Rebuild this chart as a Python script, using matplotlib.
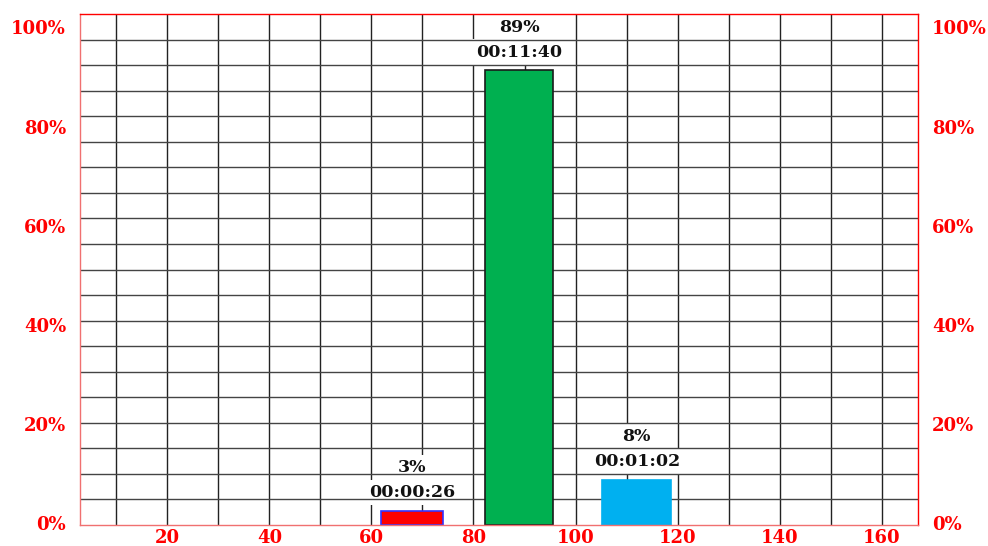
import numpy as np
import matplotlib
matplotlib.use("Agg")
import matplotlib.pyplot as plt

# bar data
bar_x = [68, 89, 112]
bar_pct = [2.8, 89, 8.8]
pct_labels = ["3%", "89%", "8%"]
time_labels = ["00:00:26", "00:11:40", "00:01:02"]
bar_colors = ["#ff0000", "#00b050", "#00b0f0"]
bar_edges = ["#3333ff", "#1a1a1a", "#00b0f0"]
bar_widths = [12.1, 13.3, 13.5]

x_ticks = [20, 40, 60, 80, 100, 120, 140, 160]
y_ticks = [0, 20, 40, 60, 80, 100]
y_labels = ["%d%%" % v for v in y_ticks]

RED = "#ff0000"
tick_font = {"family": "DejaVu Serif", "weight": "bold", "size": 13}
lab_font = {"family": "DejaVu Serif", "weight": "bold", "size": 12.5}

fig = plt.figure(figsize=(9.88, 5.46), dpi=100)
ax = fig.add_axes([80/988, 21/546, 838/988, 511/546])
ax.set_xlim(2.9, 167.1)
ax.set_ylim(0, 100)

# grid: vertical below the label boxes, horizontal above them
for gx in np.arange(10, 170, 10):
    ax.axvline(gx, color="#222222", lw=1.0, zorder=1)
for gy in np.arange(5, 100, 5):
    ax.axhline(gy, color="#444444", lw=1.0, zorder=2.5)

for i in range(len(bar_x)):
    ax.bar(bar_x[i], bar_pct[i], width=bar_widths[i], color=bar_colors[i],
           edgecolor=bar_edges[i], linewidth=1.2, zorder=3)
    box = dict(boxstyle="square,pad=0.25", fc="white", ec="none")
    ax.annotate(time_labels[i], (bar_x[i], bar_pct[i]), xytext=(0, 13),
                textcoords="offset points", ha="center", va="center",
                color="#111111", bbox=box, zorder=2, **lab_font)
    ax.annotate(pct_labels[i], (bar_x[i], bar_pct[i]), xytext=(0, 31),
                textcoords="offset points", ha="center", va="center",
                color="#111111", bbox=box, zorder=2,
                annotation_clip=False, **lab_font)

ax.set_xticks(x_ticks)
ax.set_xticklabels([str(v) for v in x_ticks], color=RED, **tick_font)
ax.set_yticks([])
ax.tick_params(axis="x", length=0, pad=3)

# percent labels on both sides sit on a slightly compressed scale
def to_lab(u):
    return (5.11 * np.asarray(u) - 2) / 4.955

def from_lab(v):
    return (4.955 * np.asarray(v) + 2) / 5.11

for side in ["left", "right"]:
    sec = ax.secondary_yaxis(side, functions=(to_lab, from_lab))
    sec.set_yticks(y_ticks)
    sec.set_yticklabels(y_labels, color=RED, **tick_font)
    sec.tick_params(length=0, pad=10)
    for sp in sec.spines.values():
        sp.set_visible(False)

for side in ["top", "right"]:
    ax.spines[side].set_color(RED)
for side in ["left", "bottom"]:
    ax.spines[side].set_color("#f07070")
for sp in ax.spines.values():
    sp.set_linewidth(1.0)
    sp.set_zorder(4)

fig.savefig("out.png", dpi=100, facecolor="white")
